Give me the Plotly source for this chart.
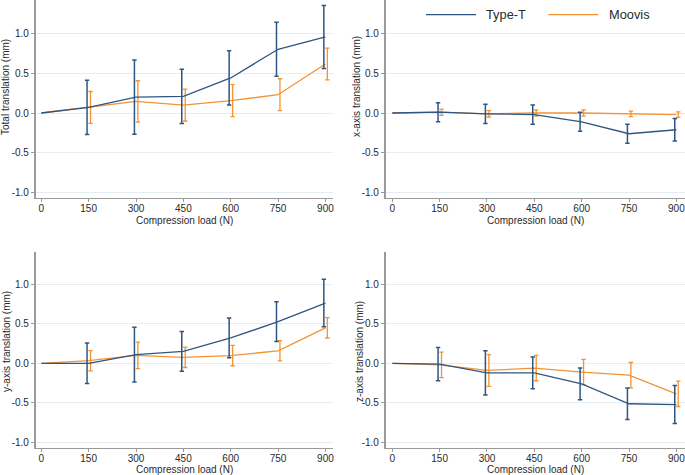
import plotly.graph_objects as go

# ---------------- data ----------------
loads = [0, 150, 300, 450, 600, 750, 900]
series_names = ["Type-T", "Moovis"]

typeT_total_mean = [0, 0.07, 0.20, 0.21, 0.44, 0.80, 0.955]
typeT_total_sd = [0, 0.34, 0.465, 0.34, 0.34, 0.34, 0.395]
moovis_total_mean = [0, 0.07, 0.145, 0.10, 0.155, 0.23, 0.615]
moovis_total_sd = [0, 0.20, 0.26, 0.20, 0.20, 0.20, 0.20]

typeT_x_mean = [0, 0.01, -0.01, -0.02, -0.11, -0.26, -0.21]
typeT_x_sd = [0, 0.12, 0.12, 0.12, 0.12, 0.12, 0.14]
moovis_x_mean = [0, 0.01, -0.01, 0.0, 0.0, -0.01, -0.02]
moovis_x_sd = [0, 0.04, 0.04, 0.04, 0.04, 0.035, 0.035]

typeT_y_mean = [0, 0.0, 0.11, 0.15, 0.32, 0.525, 0.76]
typeT_y_sd = [0, 0.255, 0.345, 0.25, 0.25, 0.25, 0.30]
moovis_y_mean = [0, 0.033, 0.10, 0.075, 0.097, 0.158, 0.447]
moovis_y_sd = [0, 0.128, 0.168, 0.128, 0.128, 0.128, 0.128]

typeT_z_mean = [0, -0.01, -0.12, -0.12, -0.26, -0.51, -0.52]
typeT_z_sd = [0, 0.21, 0.28, 0.20, 0.20, 0.20, 0.24]
moovis_z_mean = [0, -0.02, -0.09, -0.06, -0.11, -0.15, -0.385]
moovis_z_sd = [0, 0.16, 0.20, 0.16, 0.16, 0.16, 0.16]

y_titles = ["Total translation (mm)", "x-axis translation (mm)",
            "y-axis translation (mm)", "z-axis translation (mm)"]
x_title = "Compression load (N)"
y_tickvals = [-1.0, -0.5, 0.0, 0.5, 1.0]
y_ticktext = ["-1.0", "-0.5", "0.0", "0.5", "1.0"]
x_tickvals = [0, 150, 300, 450, 600, 750, 900]

# ---------------- style ----------------
W, H = 685, 475
BLUE = "#2f5682"
ORANGE = "#f39333"
AXIS = "#9a9a9a"
GRID = "#e4eef0"
TXT = "#2a2a2a"
FONT = "Liberation Sans, Arial, sans-serif"
offsets = {"Type-T": -5, "Moovis": 6}

panels = [
    (typeT_total_mean, typeT_total_sd, moovis_total_mean, moovis_total_sd),
    (typeT_x_mean, typeT_x_sd, moovis_x_mean, moovis_x_sd),
    (typeT_y_mean, typeT_y_sd, moovis_y_mean, moovis_y_sd),
    (typeT_z_mean, typeT_z_sd, moovis_z_mean, moovis_z_sd),
]

# panel geometry (pixels)
x_dom_px = [(35.7, 333), (385.7, 685), (35.7, 333), (385.7, 685)]
x_rng = [[-17.7, 924], [-20.9, 927.4], [-17.7, 924], [-20.9, 927.4]]
y_dom_px = [(0, 198.3), (0, 198.3), (252, 448.3), (252, 448.3)]
y_rng = [[-1.070, 1.418], [-1.070, 1.418], [-1.072, 1.404], [-1.072, 1.404]]
ytitle_pos = [(6, 87), (357, 87), (6, 342), (359, 352)]
xtitle_pos = [(184, 220), (535, 220), (184, 469.5), (535, 469.5)]

fig = go.Figure()
layout = dict(
    width=W, height=H, margin=dict(l=0, r=0, t=0, b=0),
    paper_bgcolor="white", plot_bgcolor="white", showlegend=False,
    font=dict(family=FONT, color=TXT, size=10),
)
annotations = []

for i, (tm, ts, mm, ms) in enumerate(panels):
    n = i + 1
    xa = "x" if n == 1 else f"x{n}"
    ya = "y" if n == 1 else f"y{n}"
    for name, mean, sd, col, bw in [("Moovis", mm, ms, ORANGE, 1.3),
                                    ("Type-T", tm, ts, BLUE, 1.5)]:
        off = offsets[name]
        fig.add_trace(go.Scatter(
            x=loads, y=mean, mode="lines", name=name,
            line=dict(color=col, width=1.3), xaxis=xa, yaxis=ya,
            hoverinfo="skip"))
        fig.add_trace(go.Scatter(
            x=[v + off for v in loads[1:]], y=mean[1:], mode="markers",
            marker=dict(size=1, color=col, opacity=0),
            error_y=dict(type="data", array=sd[1:], visible=True,
                         color=col, thickness=bw, width=2.2),
            xaxis=xa, yaxis=ya, hoverinfo="skip"))
    x0, x1 = x_dom_px[i]
    yt, yb = y_dom_px[i]
    xkey = "xaxis" if n == 1 else f"xaxis{n}"
    ykey = "yaxis" if n == 1 else f"yaxis{n}"
    layout[xkey] = dict(
        domain=[x0 / W, x1 / W], range=x_rng[i], anchor=ya,
        tickvals=x_tickvals, ticks="outside", ticklen=3, tickcolor=AXIS,
        ticklabelstandoff=-2, ticklabeloverflow="allow",
        showline=True, linecolor=AXIS, linewidth=1.2,
        showgrid=False, zeroline=False,
        tickfont=dict(size=10, color=TXT, family=FONT))
    layout[ykey] = dict(
        domain=[1 - yb / H, 1 - yt / H], range=y_rng[i], anchor=xa,
        tickvals=y_tickvals, ticktext=y_ticktext,
        ticks="outside", ticklen=3, tickcolor=AXIS,
        showline=True, linecolor=AXIS, linewidth=1.5,
        showgrid=True, gridcolor=GRID, gridwidth=1, zeroline=False,
        tickfont=dict(size=10, color=TXT, family=FONT))
    tx, ty = ytitle_pos[i]
    annotations.append(dict(
        text=y_titles[i], x=tx / W, y=1 - ty / H, xref="paper", yref="paper",
        textangle=-90, showarrow=False, xanchor="center", yanchor="middle",
        font=dict(size=10, color=TXT, family=FONT)))
    cx, cy = xtitle_pos[i]
    annotations.append(dict(
        text=x_title, x=cx / W, y=1 - cy / H, xref="paper", yref="paper",
        showarrow=False, xanchor="center", yanchor="middle",
        font=dict(size=10, color=TXT, family=FONT)))

# manual legend (top-right panel)
shapes = []
leg = [("Type-T", BLUE, 426, 476, 484.3), ("Moovis", ORANGE, 548.3, 598.3, 606.5)]
for name, col, lx0, lx1, tx in leg:
    shapes.append(dict(type="line", xref="paper", yref="paper",
                       x0=lx0 / W, x1=lx1 / W, y0=1 - 14.7 / H, y1=1 - 14.7 / H,
                       line=dict(color=col, width=1.3)))
    annotations.append(dict(
        text=name, x=tx / W, y=1 - 14.7 / H, xref="paper", yref="paper",
        showarrow=False, xanchor="left", yanchor="middle",
        font=dict(size=12.8, color=TXT, family=FONT)))

layout["annotations"] = annotations
layout["shapes"] = shapes
fig.update_layout(**layout)
fig.write_html(
    "out.html",
    config={"displayModeBar": False},
    post_script="document.body.style.margin='0';document.body.style.padding='0';",
)
